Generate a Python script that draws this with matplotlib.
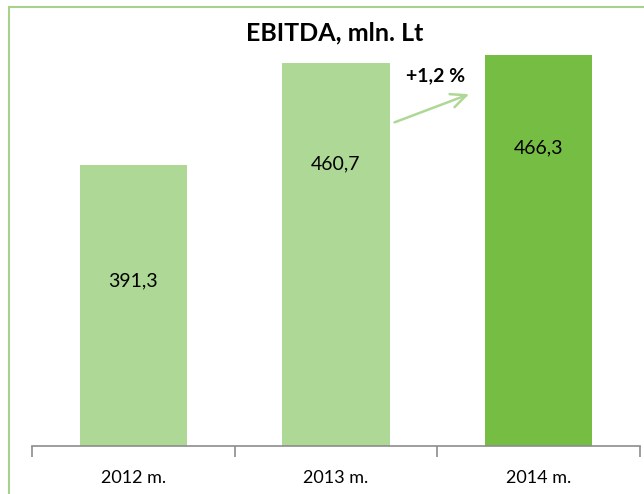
import matplotlib.pyplot as plt
import matplotlib.patches as patches

# data
years = ["2012 m.", "2013 m.", "2014 m."]
ebitda = [391.3, 460.7, 466.3]
value_labels = ["391,3", "460,7", "466,3"]
growth_label = "+1,2 %"
title = "EBITDA, mln. Lt"

light_green = "#AED895"
dark_green = "#76BD43"
bar_colors = [light_green, light_green, dark_green]
# vertical spot of the value text inside each bar (data units)
label_pos = [312, 392, 403]

plt.rcParams['font.family'] = ['Lato', 'DejaVu Sans']

fig = plt.figure(figsize=(6.44, 4.94), dpi=100)
ax = fig.add_axes([32 / 644, 48 / 494, 608 / 644, 441 / 494])

x = range(len(years))
ax.bar(x, ebitda, width=0.53, color=bar_colors, bottom=0, zorder=2)
ax.set_xlim(-0.5, len(years) - 0.5)
ax.set_ylim(200, 500)

for i, (lab, yy) in enumerate(zip(value_labels, label_pos)):
    ax.text(i, yy, lab, ha='center', va='center', fontsize=14, color='black', zorder=3)

# axis styling
for side in ['top', 'right', 'left']:
    ax.spines[side].set_visible(False)
ax.spines['bottom'].set_color('#8C8C8C')
ax.spines['bottom'].set_linewidth(1.2)
ax.set_yticks([])
ax.set_xticks([-0.5, 0.5, 1.5, 2.5], minor=False)
ax.set_xticklabels([])
ax.set_xticks(list(x), minor=True)
ax.set_xticklabels(years, minor=True, fontsize=13)
ax.tick_params(axis='x', which='major', length=8, width=1.2, color='#8C8C8C', direction='out')
ax.tick_params(axis='x', which='minor', length=0, pad=17)

# growth arrow between 2013 and 2014
ax.annotate("", xy=(1.67, 440), xytext=(1.276, 419.5),
            arrowprops=dict(arrowstyle='->,head_length=1.1,head_width=0.5',
                            color=light_green, lw=1.8))
ax.text(1.49, 452, growth_label, ha='center', va='center', fontsize=14,
        fontweight='bold')

fig.text(335 / 644, 1 - 33 / 494, title, ha='center', va='center',
         fontsize=18, fontweight='bold')

# chart area frame
frame = patches.Rectangle((8.5 / 644, -0.1), 1.0, 1.1 - 7.5 / 494,
                          transform=fig.transFigure, fill=False,
                          edgecolor="#A9D18E", linewidth=1.5)
fig.patches.append(frame)

fig.savefig("out.png", dpi=100)
